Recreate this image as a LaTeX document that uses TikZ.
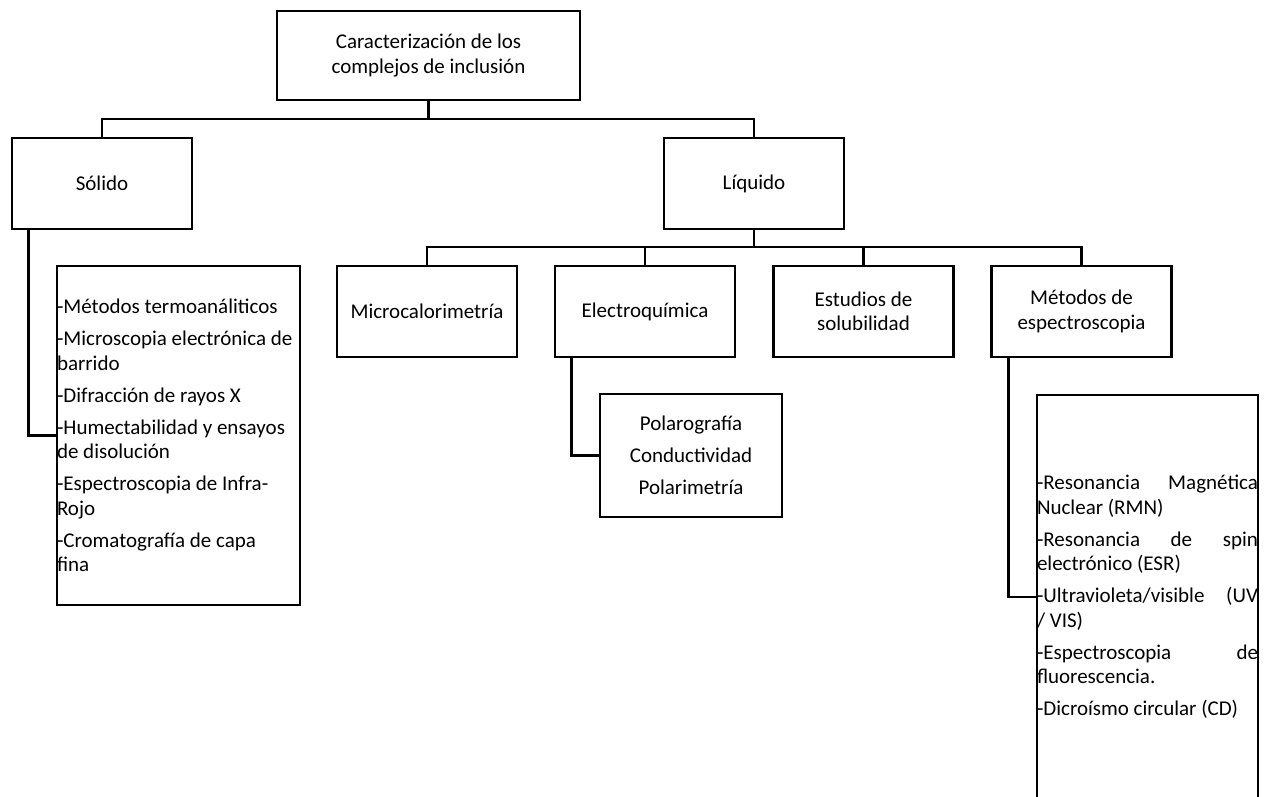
\documentclass[tikz,border=0pt]{standalone}
\usepackage{fontspec}
\setmainfont{Carlito}
\usepackage{tikz}
\tikzstyle{box} = [draw, line width=2.6pt, inner sep=0pt,
    minimum width=180pt, minimum height=91pt, align=center,
    font=\fontsize{21pt}{24.5pt}\selectfont]
\tikzstyle{listbox} = [draw, line width=2.6pt, inner sep=0pt, align=flush left,
    font=\fontsize{21pt}{24.5pt}\selectfont]

\begin{document}
\begin{tikzpicture}
\begin{scope}[x=1pt, y=-1pt, line width=2.6pt]
    \useasboundingbox (0,0) rectangle (1267,796);
    %top levels
    \node[box, minimum width=303pt, minimum height=89pt] (root) at (428.5,55.5)
        {Caracterización de los\\complejos de inclusión};
    \node[box] (sol) at (102,183.5) {Sólido};
    \node[box] (liq) at (754,183.5) {Líquido};
    %liquid branches
    \node[box] (micro) at (427,311.5) {Microcalorimetría};
    \node[box] (electro) at (645,311.5) {Electroquímica};
    \node[box] (estud) at (863.5,311.5) {Estudios de\\solubilidad};
    \node[box] (metod) at (1081.5,311.5) {Métodos de\\espectroscopia};
    %lists
    \node[listbox, text width=243pt, minimum height=339pt] (slist) at (178.5,435.5)
        {-Métodos termoanáliticos\\[7.5pt]
         -Microscopia electrónica de\\ barrido\\[7.5pt]
         -Difracción de rayos X\\[7.5pt]
         -Humectabilidad y ensayos\\ de disolución\\[7.5pt]
         -Espectroscopia de Infra-\\ Rojo\\[7.5pt]
         -Cromatografía de capa\\ fina};
    \node[box, minimum width=182pt, minimum height=123pt] (polar) at (691,455.5)
        {Polarografía\\[7.5pt] Conductividad\\[7.5pt] Polarimetría};
    \node[listbox, text width=221pt, minimum height=404pt] (elist) at (1147.5,597)
        {-Resonancia\hfill Magnética\\ Nuclear (RMN)\\[7.5pt]
         -Resonancia\hfill de\hfill spin\\ electrónico (ESR)\\[7.5pt]
         -Ultravioleta/visible\hfill (UV\\ / VIS)\\[7.5pt]
         -Espectroscopia\hfill de\\ fluorescencia.\\[7.5pt]
         -Dicroísmo circular (CD)};
    %connectors
    \coordinate (b1) at (428.5,119);
    \coordinate (b2) at (754,247);
    \draw (root.south) -- (b1) -| (sol.north);
    \draw (b1) -| (liq.north);
    \draw (liq.south) -- (b2) -| (micro.north);
    \draw (b2) -| (electro.north);
    \draw (b2) -| (estud.north);
    \draw (b2) -| (metod.north);
    \draw ([xshift=18pt]sol.south west) |- (slist.west);
    \draw ([xshift=18pt]electro.south west) |- (polar.west);
    \draw ([xshift=18pt]metod.south west) |- (elist.west);
\end{scope}
\end{tikzpicture}
\end{document}
